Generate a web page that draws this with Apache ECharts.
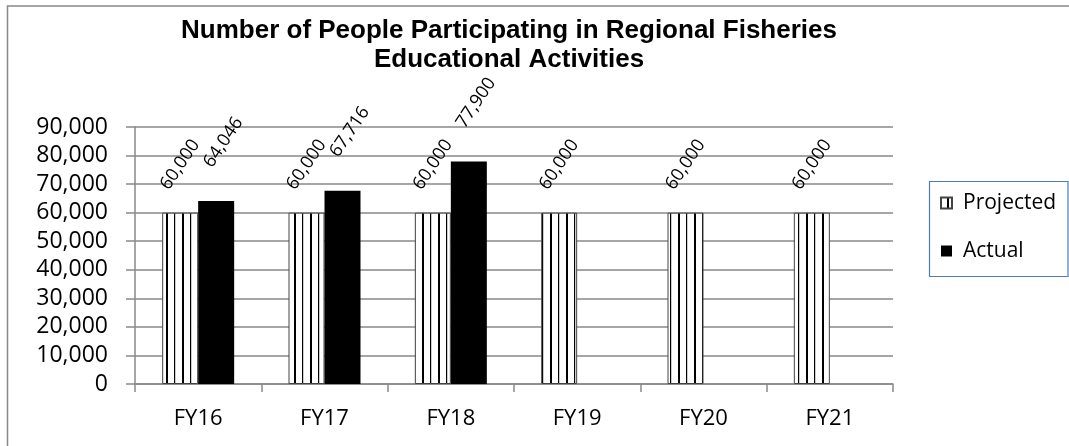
<!DOCTYPE html>
<html>
<head>
<meta charset="utf-8">
<title>Regional Fisheries Educational Activities</title>
<script src="https://cdn.jsdelivr.net/npm/echarts@6/dist/echarts.min.js"></script>
<style>
  html, body { margin: 0; padding: 0; background: #fff; }
  #chart { width: 1069px; height: 446px; }
</style>
</head>
<body>
<div id="chart"></div>
<script>
var categories = ['FY16', 'FY17', 'FY18', 'FY19', 'FY20', 'FY21'];
var projected = [60000, 60000, 60000, 60000, 60000, 60000];
var actual = [64046, 67716, 77900, null, null, null];
var seriesNames = ['Projected', 'Actual'];

(function () {
    var chartDom = document.getElementById('chart');
    var myChart = echarts.init(chartDom);
    var option;
    var font = '"Open Sans", "Noto Sans", sans-serif';
    var titleFont = '"Liberation Sans", Arial, sans-serif';
    var gray = '#898989';

    // vertical stripe fill for the projected bars
    var stripe = document.createElement('canvas');
    stripe.width = 16;
    stripe.height = 8;
    var ctx = stripe.getContext('2d');
    ctx.fillStyle = '#fff';
    ctx.fillRect(0, 0, 16, 8);
    ctx.fillStyle = '#000';
    ctx.fillRect(6, 0, 2, 8);
    ctx.fillRect(14, 0, 1.2, 8);

    function fmt(v) {
        return Number(v).toLocaleString('en-US');
    }

    var barLabel = {
        show: true,
        position: 'top',
        distance: 48,
        rotate: 56,
        align: 'center',
        verticalAlign: 'middle',
        fontFamily: font,
        fontSize: 18,
        color: '#000',
        formatter: function (p) { return fmt(p.value); }
    };

    option = {
        animation: false,
        backgroundColor: '#fff',
        graphic: [
            {
                type: 'rect',
                shape: { x: 7.5, y: 6, width: 1200, height: 600 },
                style: { fill: 'none', stroke: gray, lineWidth: 1.5 }
            },
            {
                type: 'text',
                x: 509, y: 31,
                style: {
                    text: 'Number of People Participating in Regional Fisheries',
                    align: 'center', verticalAlign: 'middle',
                    fontFamily: titleFont, fontSize: 26, fontWeight: 'bold',
                    fill: '#000'
                }
            },
            {
                type: 'text',
                x: 509, y: 60,
                style: {
                    text: 'Educational Activities',
                    align: 'center', verticalAlign: 'middle',
                    fontFamily: titleFont, fontSize: 26, fontWeight: 'bold',
                    fill: '#000'
                }
            },
            {
                type: 'rect',
                shape: { x: 929.5, y: 181.5, width: 138.5, height: 95 },
                style: { fill: 'none', stroke: '#4A7EBB', lineWidth: 1.2 }
            }
        ],
        legend: {
            orient: 'vertical',
            left: 940,
            top: 192,
            icon: 'rect',
            itemWidth: 11,
            itemHeight: 11,
            itemGap: 26,
            padding: 0,
            data: seriesNames,
            textStyle: {
                fontFamily: font,
                fontSize: 21,
                lineHeight: 22,
                color: '#000',
                padding: [0, 0, 0, 6]
            }
        },
        grid: {
            left: 135,
            right: 176,
            top: 127,
            bottom: 62,
            containLabel: false,
            outerBoundsMode: 'none'
        },
        xAxis: {
            type: 'category',
            data: categories,
            axisLine: { lineStyle: { color: gray, width: 1.5 } },
            axisTick: { show: true, length: 8, lineStyle: { color: gray, width: 1.5 } },
            axisLabel: { margin: 24, fontFamily: font, fontSize: 22, color: '#000' },
            splitLine: { show: false }
        },
        yAxis: {
            type: 'value',
            min: 0,
            max: 90000,
            interval: 10000,
            axisLine: { show: true, lineStyle: { color: gray, width: 1.5 } },
            axisTick: { show: true, length: 9, lineStyle: { color: gray, width: 1.5 } },
            axisLabel: {
                margin: 27,
                fontFamily: font,
                fontSize: 23,
                color: '#000',
                formatter: function (v) { return fmt(v); }
            },
            splitLine: { show: true, lineStyle: { color: gray, width: 1.5 } }
        },
        series: [
            {
                name: seriesNames[0],
                type: 'bar',
                data: projected,
                barWidth: 36,
                barGap: '0%',
                itemStyle: {
                    color: { image: stripe, repeat: 'repeat' },
                    borderColor: '#444',
                    borderWidth: 1
                },
                label: barLabel
            },
            {
                name: seriesNames[1],
                type: 'bar',
                data: actual,
                barWidth: 36,
                barGap: '0%',
                itemStyle: { color: '#000' },
                label: Object.assign({}, barLabel, { offset: [13, 0] })
            }
        ]
    };

    option && myChart.setOption(option);
    window.addEventListener('resize', function () {
        myChart.resize();
    });
})();
</script>
</body>
</html>
